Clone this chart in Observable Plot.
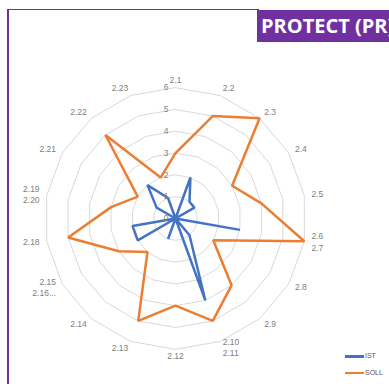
<!DOCTYPE html>
<html><head><meta charset="utf-8">
<script src="https://cdn.jsdelivr.net/npm/d3@7"></script>
<script src="https://cdn.jsdelivr.net/npm/@observablehq/plot@0.6"></script>
<style>
body{margin:0;background:#fff;}
#wrap{position:relative;width:389px;height:384px;overflow:hidden;font-family:"Liberation Sans",Arial,sans-serif;background:#fff;}
#chart{position:absolute;left:0;top:0;}
.frameL{position:absolute;left:7px;top:9px;width:1.6px;height:380px;background:#7030A0;}
.frameT{position:absolute;left:7px;top:9px;width:252px;height:1.4px;background:#7030A0;}
.title{position:absolute;left:257px;top:10px;width:140px;height:32px;background:#7030A0;color:#fff;font-family:"Open Sans",sans-serif;font-weight:700;font-size:20px;line-height:31px;padding-left:4px;white-space:nowrap;box-sizing:border-box;}
.leg{position:absolute;font-size:7px;color:#595959;line-height:8px;}
.leg span.sw{position:absolute;left:0;width:19px;height:2.5px;}
.leg span.tx{position:absolute;left:20px;top:-3px;}
</style></head><body>
<div id="wrap">
  <div class="frameL"></div><div class="frameT"></div>
  <div class="title">PROTECT (PR)</div>
  <div id="chart"></div>
  <div id="legend"></div>
</div>
<script>
const categories = ["2.1","2.2","2.3","2.4","2.5","2.6\n2.7","2.8","2.9","2.10\n2.11","2.12","2.13","2.14","2.15\n2.16...","2.18","2.19\n2.20","2.21","2.22","2.23"];
const istValues  = [0,2,1,1,0,3,0,1,4,0,1,0,2,2,0,1,2,1];
const sollValues = [3,5,6,3,4,6,2,4,5,4,5,2,3,5,3,2,5,2];
const ringTicks = [0,1,2,3,4,5,6];
const seriesNames = ["IST","SOLL"];
const seriesColors = ["#4472C4","#ED7D31"];

const W = 389, H = 384, cx = 175, cy = 218, u = 21.8;
const n = categories.length;
const ang = i => i * 2 * Math.PI / n;
const px = (r, i) => r * Math.sin(ang(i));
const py = (r, i) => r * Math.cos(ang(i));

const gridPts = ringTicks.filter(v => v > 0).flatMap(v => categories.map((c, i) => ({ring: v, i})));
const seriesData = [
  ...istValues.map((v, i) => ({s: seriesNames[0], i, v})),
  ...sollValues.map((v, i) => ({s: seriesNames[1], i, v}))
];
const labelR = 6.33;
const labels = categories.map((c, i) => ({c, i, s: Math.sin(ang(i))}));

const font = "Liberation Sans, Arial, sans-serif";
const lblOpts = {x: d => px(labelR, d.i), y: d => py(labelR, d.i), text: "c", fill: "#808080", fontSize: 8.5, lineHeight: 1.3, fontFamily: font, dy: -1};

const chart = Plot.plot({
  width: W, height: H, margin: 0,
  x: {domain: [-cx / u, (W - cx) / u], range: [0, W], axis: null},
  y: {domain: [(cy - H) / u, cy / u], range: [H, 0], axis: null},
  color: {domain: seriesNames, range: seriesColors},
  style: {background: "transparent", fontFamily: font},
  marks: [
    Plot.line(gridPts, {x: d => px(d.ring, d.i), y: d => py(d.ring, d.i), z: "ring", curve: "linear-closed", stroke: "#d9d9d9", strokeWidth: 1}),
    Plot.line(seriesData, {x: d => px(d.v, d.i), y: d => py(d.v, d.i), z: "s", stroke: "s", curve: "linear-closed", strokeWidth: 2.5, strokeLinejoin: "miter"}),
    Plot.text(ringTicks, {x: 0, y: d => d, text: d => String(d), textAnchor: "end", dx: -7, fill: "#808080", fontSize: 8.5, fontFamily: font}),
    Plot.text(labels.filter(d => d.s > 0.1), {...lblOpts, textAnchor: "start"}),
    Plot.text(labels.filter(d => d.s < -0.1), {...lblOpts, textAnchor: "end"}),
    Plot.text(labels.filter(d => Math.abs(d.s) <= 0.1), {...lblOpts, textAnchor: "middle"})
  ]
});
document.getElementById("chart").appendChild(chart);

const leg = document.getElementById("legend");
seriesNames.forEach((name, k) => {
  const d = document.createElement("div");
  d.className = "leg";
  d.style.left = "345px";
  d.style.top = (355 + k * 16.5) + "px";
  d.innerHTML = `<span class="sw" style="background:${seriesColors[k]}"></span><span class="tx">${name}</span>`;
  leg.appendChild(d);
});
</script>
</body></html>
